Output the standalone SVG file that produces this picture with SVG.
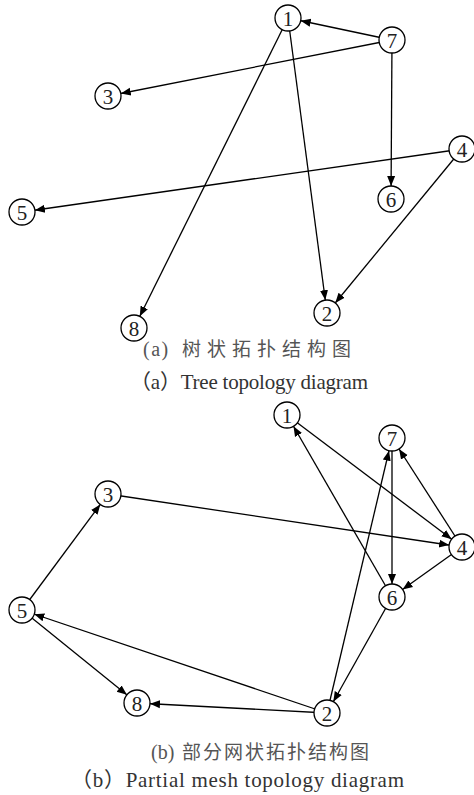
<svg xmlns="http://www.w3.org/2000/svg" width="474" height="795" viewBox="0 0 474 795">
<style>
.e{stroke:#000;stroke-width:1.3;fill:none;marker-end:url(#ah)}
.n circle{fill:#fff;stroke:#000;stroke-width:1.3}
.n text{font-family:'Liberation Serif','Times New Roman',serif;font-size:21px;text-anchor:middle;fill:#222}
.cap{font-family:'Liberation Serif','Noto Sans CJK SC',serif;fill:#555}
.en{font-family:'Liberation Serif','Noto Sans CJK SC',serif;font-size:21px;fill:#333}
</style>
<defs>
<marker id="ah" markerUnits="userSpaceOnUse" markerWidth="40" markerHeight="12" refX="23" refY="4" orient="auto" viewBox="0 0 40 8">
<path d="M0,0 L10,4 L0,8 Z" fill="#000"/>
</marker>
</defs>
<g id="connectors">
<line class="e" x1="392" y1="40" x2="288" y2="18"/>
<line class="e" x1="392" y1="40" x2="108" y2="96"/>
<line class="e" x1="392" y1="40" x2="391" y2="199"/>
<line class="e" x1="288" y1="18" x2="134" y2="328"/>
<line class="e" x1="288" y1="18" x2="327" y2="313"/>
<line class="e" x1="462" y1="149" x2="22" y2="212"/>
<line class="e" x1="462" y1="149" x2="327" y2="313"/>

<line class="e" x1="287" y1="415" x2="462" y2="547"/>
<line class="e" x1="392" y1="597" x2="287" y2="415"/>
<line class="e" x1="327" y1="713" x2="392" y2="438"/>
<line class="e" x1="392" y1="438" x2="392" y2="597"/>
<line class="e" x1="462" y1="547" x2="392" y2="438"/>
<line class="e" x1="462" y1="547" x2="392" y2="597"/>
<line class="e" x1="108" y1="494" x2="462" y2="547"/>
<line class="e" x1="22" y1="610" x2="108" y2="494"/>
<line class="e" x1="327" y1="713" x2="22" y2="610"/>
<line class="e" x1="22" y1="610" x2="137" y2="703"/>
<line class="e" x1="327" y1="713" x2="137" y2="703"/>
<line class="e" x1="392" y1="597" x2="327" y2="713"/>
</g>
<g id="a1" class="n"><circle cx="288" cy="18" r="13"/><text x="288" y="25.5">1</text></g>
<g id="a7" class="n"><circle cx="392" cy="40" r="13"/><text x="392" y="47.5">7</text></g>
<g id="a3" class="n"><circle cx="108" cy="96" r="13"/><text x="108" y="103.5">3</text></g>
<g id="a5" class="n"><circle cx="22" cy="212" r="13"/><text x="22" y="219.5">5</text></g>
<g id="a4" class="n"><circle cx="462" cy="149" r="13"/><text x="462" y="156.5">4</text></g>
<g id="a6" class="n"><circle cx="391" cy="199" r="13"/><text x="391" y="206.5">6</text></g>
<g id="a2" class="n"><circle cx="327" cy="313" r="13"/><text x="327" y="320.5">2</text></g>
<g id="a8" class="n"><circle cx="134" cy="328" r="13"/><text x="134" y="335.5">8</text></g>
<text class="cap" x="143" y="356" font-size="20" letter-spacing="1.5">(a)<tspan x="182" font-size="19" letter-spacing="6">树状拓扑结构图</tspan></text>
<text class="en" x="130" y="389" textLength="238" lengthAdjust="spacing">（a）Tree topology diagram</text>

<g id="b1" class="n"><circle cx="287" cy="415" r="13"/><text x="287" y="422.5">1</text></g>
<g id="b7" class="n"><circle cx="392" cy="438" r="13"/><text x="392" y="445.5">7</text></g>
<g id="b3" class="n"><circle cx="108" cy="494" r="13"/><text x="108" y="501.5">3</text></g>
<g id="b4" class="n"><circle cx="462" cy="547" r="13"/><text x="462" y="554.5">4</text></g>
<g id="b6" class="n"><circle cx="392" cy="597" r="13"/><text x="392" y="604.5">6</text></g>
<g id="b5" class="n"><circle cx="22" cy="610" r="13"/><text x="22" y="617.5">5</text></g>
<g id="b8" class="n"><circle cx="137" cy="703" r="13"/><text x="137" y="710.5">8</text></g>
<g id="b2" class="n"><circle cx="327" cy="713" r="13"/><text x="327" y="720.5">2</text></g>
<text class="cap" x="151" y="759" font-size="20">(b)<tspan x="182" font-size="19" letter-spacing="2">部分网状拓扑结构图</tspan></text>
<text class="en" x="71" y="787" textLength="333" lengthAdjust="spacing">（b）Partial mesh topology diagram</text>
</svg>
